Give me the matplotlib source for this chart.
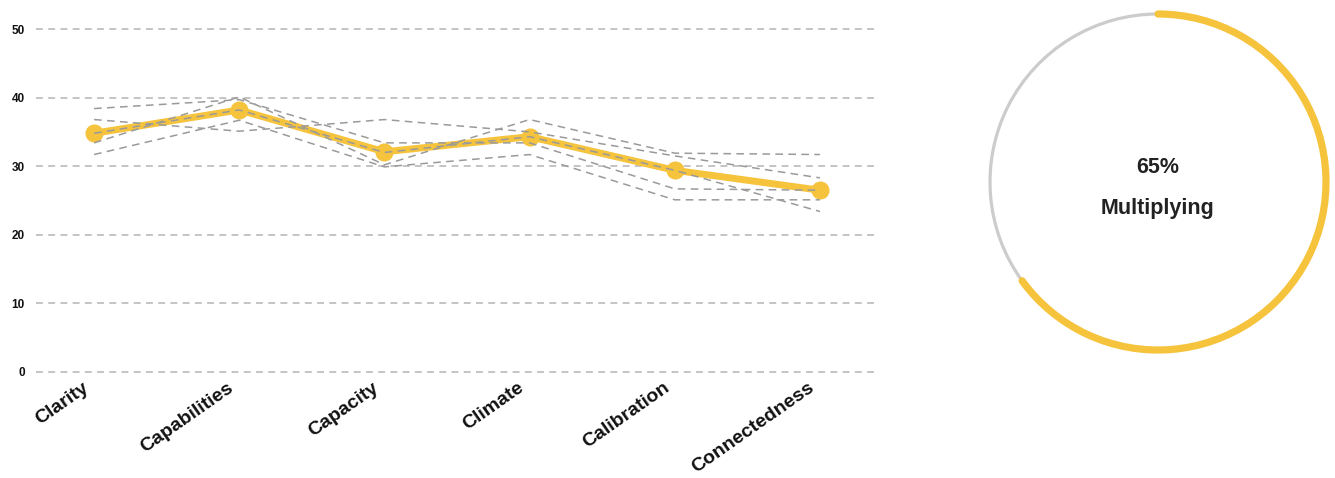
import matplotlib.pyplot as plt
import matplotlib.transforms as mtransforms
from matplotlib.patches import Arc

# data
categories = ["Clarity", "Capabilities", "Capacity", "Climate", "Calibration", "Connectedness"]
average = [34.8, 38.2, 32.1, 34.3, 29.4, 26.5]
team_1 = [38.4, 39.7, 33.4, 33.4, 26.7, 26.5]
team_2 = [33.4, 40.1, 30.2, 36.8, 31.9, 31.7]
team_3 = [36.8, 35.1, 36.8, 35.0, 31.5, 28.3]
team_4 = [31.7, 36.7, 29.9, 31.7, 25.1, 25.1]
team_5 = [34.8, 38.2, 32.0, 34.3, 29.4, 23.4]
y_ticks = [0, 10, 20, 30, 40, 50]
donut_pct = 65
donut_label = "Multiplying"

yellow = "#F6C33D"
W, H = 1335, 478

fig = plt.figure(figsize=(W / 100, H / 100), dpi=100)
plt.rcParams["font.family"] = ["Liberation Sans", "DejaVu Sans"]

#############
# line chart
#############
ax = fig.add_axes([36 / W, 1 - 372 / H, (878 - 36) / W, (372 - 29) / H])
x = list(range(len(categories)))

for yt in y_ticks:
    ax.axhline(yt, color="#b4b4b4", lw=1.1, ls=(0, (4.5, 3.5)), clip_on=False, zorder=1)

ax.plot(x, average, color=yellow, lw=5, marker="o", ms=12, zorder=3, solid_capstyle="round")
for team in [team_1, team_2, team_3, team_4, team_5]:
    ax.plot(x, team, color="#9a9a9a", lw=1.1, ls=(0, (5, 3.5)), zorder=4)

ax.set_xlim(-0.40, 5.40)
ax.set_ylim(0, 50)
ax.set_yticks(y_ticks)
ax.set_yticklabels([str(v) for v in y_ticks], fontsize=8.5, fontweight="bold", color="#111111")
ax.set_xticks(x)
ax.set_xticklabels([])
# category labels, rotated and nudged left like the original
shift = mtransforms.ScaledTranslation(-0.12, -0.07, fig.dpi_scale_trans)
for i, name in enumerate(categories):
    ax.text(i, 0, name, transform=ax.get_xaxis_transform() + shift,
            fontsize=14, fontweight="bold", color="#111111",
            rotation=35, ha="right", va="top", rotation_mode="anchor")
ax.tick_params(axis="both", length=0)
ax.tick_params(axis="y", pad=8)
for s in ax.spines.values():
    s.set_visible(False)

#############
# donut
#############
cx, cy, r = 1158, 182, 168
dax = fig.add_axes([(cx - 185) / W, 1 - (cy + 185) / H, 370 / W, 370 / H])
dax.set_xlim(-185, 185)
dax.set_ylim(-185, 185)
dax.axis("off")
sweep = donut_pct / 100 * 360
dax.add_patch(Arc((0, 0), 2 * r, 2 * r, theta1=90, theta2=90 + (360 - sweep),
                  color="#cccccc", lw=2.3))
dax.add_patch(Arc((0, 0), 2 * r, 2 * r, theta1=90 - sweep, theta2=90,
                  color=yellow, lw=5.2, capstyle="round"))
dax.text(0, 15, f"{donut_pct}%", ha="center", va="center", fontsize=15.5,
         fontweight="bold", color="#222222")
dax.text(0, -26, donut_label, ha="center", va="center", fontsize=15.5,
         fontweight="bold", color="#222222")

plt.savefig("out.png", dpi=100)
